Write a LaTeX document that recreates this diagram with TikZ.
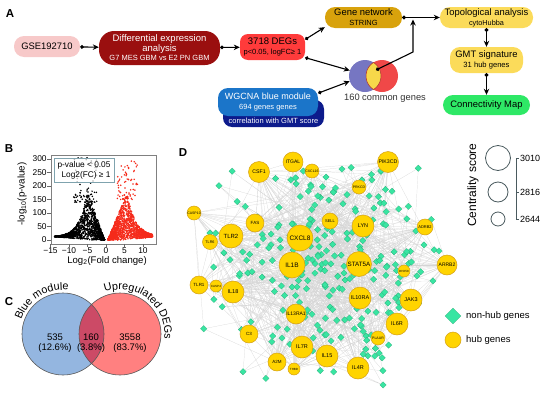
\documentclass[tikz,border=0pt]{standalone}
\usepackage{fontspec}
\setmainfont{Liberation Sans}
\usetikzlibrary{shapes.geometric, arrows.meta, calc, decorations.text, backgrounds}

\newcommand{\fsz}[1]{\fontsize{#1}{10}\selectfont}

\definecolor{gsepink}{HTML}{F7C9C9}
\definecolor{deared}{HTML}{9A0F0F}
\definecolor{degred}{HTML}{FF3B3B}
\definecolor{netgold}{HTML}{D8A20C}
\definecolor{topoyellow}{HTML}{FBDB5A}
\definecolor{cmapgreen}{HTML}{2EE866}
\definecolor{wgblue}{HTML}{1B75C9}
\definecolor{wgnavy}{HTML}{0D1B8C}
\definecolor{vennblue}{HTML}{7676C2}
\definecolor{vennred}{HTML}{F04848}
\definecolor{vennyellow}{HTML}{F7D84A}
\definecolor{cblue}{HTML}{94B6E0}
\definecolor{cred}{HTML}{FF8080}
\definecolor{cmix}{HTML}{CC4A66}
\definecolor{volred}{HTML}{F52A1A}
\definecolor{sigteal}{HTML}{7FA3AE}
\definecolor{genegold}{HTML}{FFD400}
\definecolor{geneedge}{HTML}{D4A017}
\definecolor{nonhub}{HTML}{39E5A2}
\definecolor{legendline}{HTML}{4A5A5E}

\tikzstyle{pill}=[rectangle,rounded corners=10pt,inner sep=0pt,align=center,font=\fsz{9.4}]
\tikzstyle{arrow}=[line width=1.1pt,{Circle[length=3.6pt]}-{Stealth[length=6pt,width=5.5pt]}]
\tikzstyle{hub}=[circle,fill=genegold,draw=geneedge,line width=0.5pt,inner sep=0pt]
\tikzstyle{gene}=[diamond,fill=nonhub,draw=nonhub!75!black,line width=0.2pt,inner sep=0pt,minimum size=6.5pt]
\tikzstyle{ppi}=[draw=black!17,line width=0.2pt]
\tikzstyle{panel}=[font=\fsz{11.5}\bfseries,inner sep=0pt]
\tikzstyle{ring}=[circle,draw=legendline,line width=0.8pt,inner sep=0pt]

\begin{document}
\begin{tikzpicture}[x=1pt,y=-1pt]
\useasboundingbox (0,0) rectangle (550,402);

% ---------- A: workflow
\node (labA) [panel] at (10,14) {A};
\node (gse) [pill,fill=gsepink,minimum width=66pt,minimum height=21pt] at (47,46.5) {GSE192710};
\node (dea) [pill,rounded corners=15pt,fill=deared,text=white,minimum width=121pt,minimum height=34pt,font=\fsz{9.5}] at (159.5,48) {Differential expression\\analysis\\[-1pt]{\fsz{7.5}G7 MES GBM vs E2 PN GBM}};
\node (deg) [pill,rounded corners=8pt,fill=degred,minimum width=65pt,minimum height=26pt,font=\fsz{9.5}] at (272.5,47) {3718 DEGs\\{\fsz{7.5}p<0.05, logFC≥ 1}};
\node (net) [pill,fill=netgold,minimum width=77pt,minimum height=21pt] at (363.5,17.5) {Gene network\\{\fsz{7.5}STRING}};
\node (topo) [pill,fill=topoyellow,minimum width=93pt,minimum height=21pt] at (486.5,17.5) {Topological analysis\\{\fsz{7.3}cytoHubba}};
\node (gmt) [pill,fill=topoyellow,minimum width=73pt,minimum height=26pt] at (486.5,60) {GMT signature\\{\fsz{7.6}31 hub genes}};
\node (cmap) [pill,fill=cmapgreen,minimum width=87pt,minimum height=20pt,font=\fsz{9.4}] at (486.5,105) {Connectivity Map};
\node (wgback) [pill,rounded corners=9pt,fill=wgnavy,minimum width=101pt,minimum height=27pt] at (273.5,113.5) {};
\node (wg) [pill,fill=wgblue,text=white,minimum width=100pt,minimum height=28pt,font=\fsz{9}] at (268,102) {WGCNA blue module\\{\fsz{7.5}694 genes genes}};
\node (wgcor) [text=white,font=\fsz{7.5},inner sep=0pt] at (273.5,121) {correlation with GMT score};

% small venn of the two gene sets
\node (vblue) [circle,fill=vennblue,minimum size=32pt,inner sep=0pt] at (365,76) {};
\node (vred) [circle,fill=vennred,minimum size=32pt,inner sep=0pt] at (382,76) {};
\begin{scope}
\clip (365,76) circle (16pt);
\fill[vennyellow] (382,76) circle (16pt);
\draw[vennred!70!black,line width=0.5pt] (382,76) circle (16pt);
\end{scope}
\begin{scope}
\clip (382,76) circle (16pt);
\draw[vennred!70!black,line width=0.5pt] (365,76) circle (16pt);
\end{scope}
\node (common) [font=\fsz{9.3},text=black!80] at (385,98) {160 common genes};
\coordinate (vmid) at (376,70);
\coordinate (vbend) at (413,52);
\coordinate (vjoin) at (413,19.5);

\draw[arrow] (gse) -- (dea);
\draw[arrow] (dea) -- (deg);
\draw[arrow] (deg.13) -- (net.194);
\draw[arrow] (deg.-18) -- (vblue.160);
\draw[arrow] (wg.10) -- (vblue.199);
\draw[arrow] (net) -- (topo);
\draw[arrow] (vmid) -- (vbend) -- (vjoin);
\draw[arrow] (topo) -- (gmt);
\draw[arrow] (gmt) -- (cmap);

% ---------- B: volcano plot
\node (labB) [panel] at (9,149) {B};
\begin{scope}[shift={(106,240)},x=3.7pt,y=0.27pt]
\begin{scope}
\clip (-14.86,-14.8) rectangle (13.5,315);
\pgfmathsetseed{11}
\foreach \i in {1,...,1500}{
  \pgfmathsetmacro\a{0.45+13.5*rnd^1.6}
  \pgfmathsetmacro\m{\a<5 ? 40*(\a-0.4) : 174*exp(-(\a-5)/2.2)+10}
  \pgfmathsetmacro\lb{max(0,1.3*(\a-4))}
  \pgfmathsetmacro\pv{\lb+(\m-\lb)*rnd}
  \fill[black] (-\a,\pv) circle (0.85pt);
}
\foreach \i in {1,...,70}{
  \pgfmathsetmacro\a{2.5+6.5*rnd}
  \pgfmathsetmacro\pv{140+165*rnd^2}
  \fill[black] (-\a,\pv) circle (0.85pt);
}
\foreach \i in {1,...,1500}{
  \pgfmathsetmacro\a{0.6+12*rnd^1.4}
  \pgfmathsetmacro\m{\a<5.5 ? 34*(\a-0.5) : 170*exp(-(\a-5.5)/2.4)+12}
  \pgfmathsetmacro\lb{max(0,1.3*(\a-4.5))}
  \pgfmathsetmacro\pv{\lb+(\m-\lb)*rnd}
  \fill[volred] (\a,\pv) circle (0.85pt);
}
\foreach \i in {1,...,70}{
  \pgfmathsetmacro\a{3+5.5*rnd}
  \pgfmathsetmacro\pv{150+155*rnd^2}
  \fill[volred] (\a,\pv) circle (0.85pt);
}
\end{scope}
\draw[black!50,line width=0.6pt] (-14.86,-14.8) rectangle (13.5,315);
\foreach \v in {0,50,...,300}{
  \draw[black!60,line width=0.5pt] (-14.86,\v) -- ++(-1.1,0);
  \node (yt\v) [anchor=east,font=\fsz{8.4},inner sep=0pt] at (-16,\v) {\v};
}
\foreach \t/\s in {-15/−15,-10/−10,-5/−5,0/0,5/5,10/10}{
  \draw[black!60,line width=0.5pt] (\t,-14.8) -- ++(0,-11);
  \node (xt\t) [anchor=north,font=\fsz{8.4},inner sep=0pt] at (\t,-28) {\s};
}
\end{scope}
\node (sig) [draw=sigteal,fill=white,fill opacity=0.7,text opacity=1,line width=0.8pt,font=\fsz{8.3},align=right,minimum width=60pt,minimum height=24pt,inner sep=0pt] at (84,170) {p-value < 0.05\\Log2(FC) ≥ 1};
\node (xlab) [font=\fsz{9.6}] at (107,261) {Log\textsubscript{2}(Fold change)};
\node (ylab) [font=\fsz{9.8},rotate=90] at (22,194) {-log\textsubscript{10}(p-value)};

% ---------- C: venn diagram
\node (labC) [panel] at (9,302) {C};
\coordinate (bc) at (63,334);
\coordinate (rc) at (120,334);
\fill[cblue] (bc) circle (41pt);
\fill[cred] (rc) circle (41pt);
\begin{scope}
\clip (bc) circle (41pt);
\fill[cmix] (rc) circle (41pt);
\end{scope}
\draw[black!65,line width=0.6pt] (bc) circle (41pt) (rc) circle (41pt);
\path[decorate,decoration={text along path,text align=center,text={|\fsz{10.8}|Blue module}}] ($(bc)+(168:44pt)$) arc[start angle=168,end angle=76,radius=44pt];
\path[decorate,decoration={text along path,text align=center,text={|\fsz{10.8}|Upregulated DEGs}}] ($(rc)+(120:44.5pt)$) arc[start angle=120,end angle=-17,radius=44.5pt];
\node (onlyblue) [font=\fsz{9.5},align=center] at (55,343) {535\\(12.6\%)};
\node (both) [font=\fsz{9.5},align=center] at (91,343) {160\\(3.8\%)};
\node (onlydeg) [font=\fsz{9.5},align=center] at (130,343) {3558\\(83.7\%)};

% ---------- D: hub gene network
\node (labD) [panel] at (183,153) {D};
\pgfmathsetseed{7}
\foreach \i in {1,...,260}{
  \pgfmathsetmacro\gx{320+68*(rand+rand)}
  \pgfmathsetmacro\gy{266+62*(rand+rand)}
  \node (g\i) [gene] at (\gx,\gy) {};
}
\foreach \gname/\x/\y/\r [count=\k] in {CSF1/259/172/10.5, ITGAL/293/162/10, CXCL16/312/171/7, PIK3CD/388/162/10.5,
    PRKCD/359/187/7, CASP10/194/213/7, FAS/255/223/9, SELL/330/221/8, LYN/363/226/11, ADRB2/425/227/8,
    TLR2/231/236/12, CXCL8/300/238/13, TLR6/210/242/7.5, IL1B/292/265/13, STAT5A/359/264/12.5,
    DHX58/404/271/6, ARRB2/447/265/10, TLR1/199/285/9, CASP4/216/286/6, IL18/233/292/11,
    IL10RA/360/298/11, JAK3/411/300/11, IL13RA1/296/314/10, IL6R/397/324/11, C3/249/334/9,
    PLAUR/378/338/7, IL7R/302/347/11, IL15/327/356/11, A2M/277/362/9, THBD/294/369/6, IL4R/358/368/11}{
  \pgfmathsetmacro\fs{0.5*\r}
  \pgfmathsetmacro\d{2*\r}
  \node (h\k) [hub,minimum size=\d pt,font=\fsz{\fs}] at (\x,\y) {\gname};
}
\begin{pgfonlayer}{background}
\foreach \i in {1,...,260}{
  \pgfmathtruncatemacro\ha{random(1,31)}
  \pgfmathtruncatemacro\hb{random(1,31)}
  \pgfmathtruncatemacro\hc{{12,14,15,21,9}[random(0,4)]}
  \draw[ppi] (g\i) -- (h\ha) (g\i) -- (h\hb) (g\i) -- (h\hc);
}
\foreach \k in {1,...,31}{
  \foreach \n in {1,...,4}{
    \pgfmathtruncatemacro\hd{mod(\k+random(1,30)-1,31)+1}
    \draw[ppi] (h\k) -- (h\hd);
  }
}
\end{pgfonlayer}

% legends
\node (lgene) [gene,minimum size=16pt] at (453,316) {};
\node (lgenetxt) [anchor=west,font=\fsz{9.5},inner sep=0pt] at (466,316) {non-hub genes};
\node (lhub) [hub,minimum size=16pt] at (453,340) {};
\node (lhubtxt) [anchor=west,font=\fsz{9.5},inner sep=0pt] at (466,340) {hub genes};

\node (cstitle) [font=\fsz{12},rotate=90] at (473,185) {Centrality score};
\node (cbig) [ring,minimum size=25pt] at (498,158) {};
\node (cmid) [ring,minimum size=20pt] at (498,192) {};
\node (csmall) [ring,minimum size=14pt] at (498,219) {};
\coordinate (bartop) at (516,158);
\coordinate (barbot) at (516,219);
\draw[legendline,line width=0.8pt] (bartop) -- (barbot);
\foreach \y/\v in {158/3010,192/2816,219/2644}{
  \draw[legendline,line width=0.8pt] (516,\y) -- ++(3,0);
  \node (cs\v) [anchor=west,font=\fsz{9},inner sep=0pt] at (520,\y) {\v};
}
\end{tikzpicture}
\end{document}
